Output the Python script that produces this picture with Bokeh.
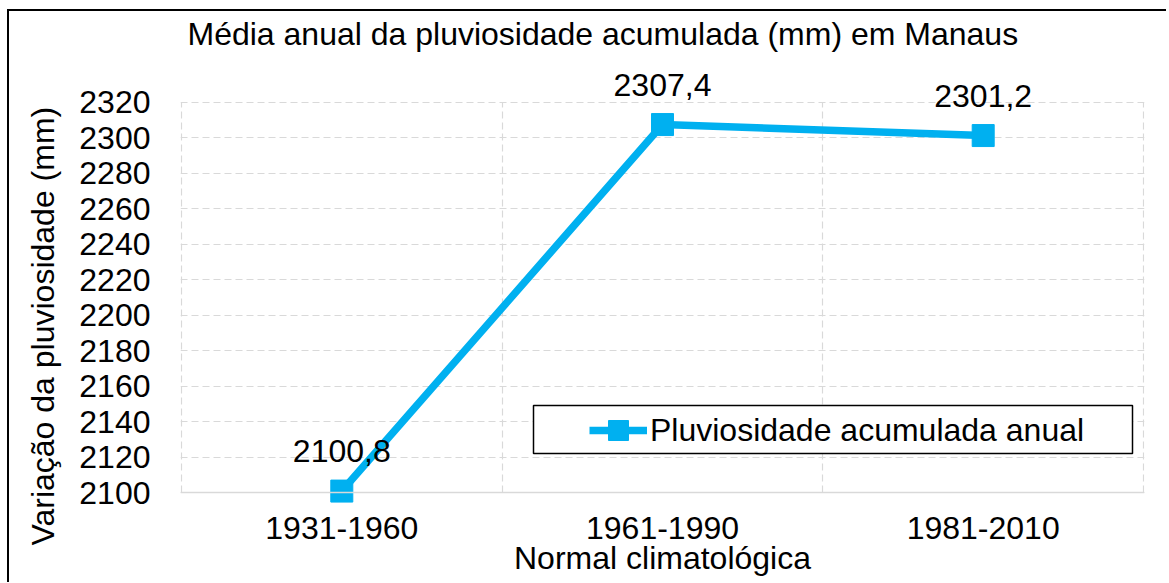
from bokeh.plotting import figure
from bokeh.models import (ColumnDataSource, FactorRange, Range1d, FixedTicker, LabelSet, Title,
                          Legend, LegendItem, BoxAnnotation, Span)
from bokeh.core.properties import value
from bokeh.embed import file_html
from bokeh.resources import INLINE

# ---- data ----
periods = ["1931-1960", "1961-1990", "1981-2010"]
rainfall = [2100.8, 2307.4, 2301.2]
value_labels = [f"{v:.1f}".replace(".", ",") for v in rainfall]
y_ticks = list(range(2100, 2321, 20))

chart_title = "Média anual da pluviosidade acumulada (mm) em Manaus"
x_title = "Normal climatológica"
y_title = "Variação da pluviosidade (mm)"
series_name = "Pluviosidade acumulada anual"

FONT = "Liberation Sans"
FS = "32px"
BLUE = "#00B0F0"
GRID = "#d9d9d9"

# layout helpers (pixels per data unit on the value axis)
PPU = 390.3 / 220
y_lo = y_ticks[0] - 12 / PPU          # room for the marker below the lowest tick
y_hi = y_ticks[-1] + 50.7 / PPU       # room for data labels above the top tick

src = ColumnDataSource(dict(x=periods, y=rainfall, label=value_labels))

p = figure(x_range=FactorRange(*periods, range_padding=0.002),
           y_range=Range1d(y_lo, y_hi),
           frame_width=964, frame_height=453,
           min_border_left=171, min_border_right=22,
           min_border_top=40, min_border_bottom=78,
           output_backend="svg", toolbar_location=None,
           title=chart_title)
p.styles = {"margin-left": "7px", "margin-top": "9px",
            "border-left": "2px solid black", "border-top": "2px solid black"}
p.outline_line_color = None
p.background_fill_color = "white"
p.border_fill_color = "white"

# title
p.title.text_font = FONT
p.title.text_font_size = FS
p.title.text_font_style = "normal"
p.title.text_color = "black"
p.title.align = "left"
p.title.offset = 7
p.title.standoff = 0

# grids
p.ygrid.ticker = FixedTicker(ticks=y_ticks)
p.ygrid.grid_line_color = GRID
p.ygrid.grid_line_dash = "7 4"
p.ygrid.grid_line_width = 1.2
p.xgrid.ticker = FixedTicker(ticks=list(range(len(periods) + 1)))
p.xgrid.grid_line_color = GRID
p.xgrid.grid_line_dash = "7 4"
p.xgrid.grid_line_width = 1.2
p.xgrid.cross_bounds = (y_ticks[0], y_ticks[-1])

p.add_layout(Span(location=y_ticks[0], dimension="width", line_color=GRID, line_width=1.5))

# axes
for ax in (p.xaxis[0], p.yaxis[0]):
    ax.axis_line_color = None
    ax.major_tick_line_color = None
    ax.minor_tick_line_color = None
    ax.major_tick_out = 0
    ax.major_label_text_font = FONT
    ax.major_label_text_font_size = FS
    ax.major_label_text_color = "black"
    ax.axis_label_text_font = FONT
    ax.axis_label_text_font_size = FS
    ax.axis_label_text_font_style = "normal"
    ax.axis_label_text_color = "black"

p.xaxis.axis_label = x_title
p.xaxis.major_label_standoff = 12
p.xaxis.axis_label_standoff = -2

p.yaxis.ticker = FixedTicker(ticks=y_ticks)
p.yaxis.major_label_standoff = 30

# y-axis title: vertical title in the left panel, centred on the chart height
p.add_layout(Title(text=y_title, align="left", offset=-41, vertical_align="top",
                   standoff=28, text_font=FONT, text_font_size=FS,
                   text_font_style="normal", text_color="black"), "left")

# series
line_r = p.line("x", "y", source=src, line_color=BLUE, line_width=7.5)
sq_r = p.scatter("x", "y", source=src, marker="square", size=22,
                 fill_color=BLUE, line_color=BLUE)

labels = LabelSet(x="x", y="y", text="label", source=src,
                  text_align="center", text_baseline="middle", y_offset=40,
                  text_font=value(FONT), text_font_size=FS, text_color="black")
p.add_layout(labels)

# legend box + legend
box = BoxAnnotation(left=353, right=952, bottom=51, top=99,
                    left_units="screen", right_units="screen",
                    bottom_units="screen", top_units="screen",
                    fill_color="white", fill_alpha=1.0,
                    line_color="black", line_width=1.5, line_alpha=1.0)
p.add_layout(box)

legend = Legend(items=[LegendItem(label=series_name, renderers=[line_r, sq_r])],
                location=(409, 49), border_line_color=None, background_fill_alpha=0,
                padding=0, margin=0, glyph_width=58, glyph_height=50, label_standoff=3,
                label_text_font=FONT, label_text_font_size=FS, label_text_color="black")
p.add_layout(legend)

open("out.html", "w").write(file_html(p, INLINE))
